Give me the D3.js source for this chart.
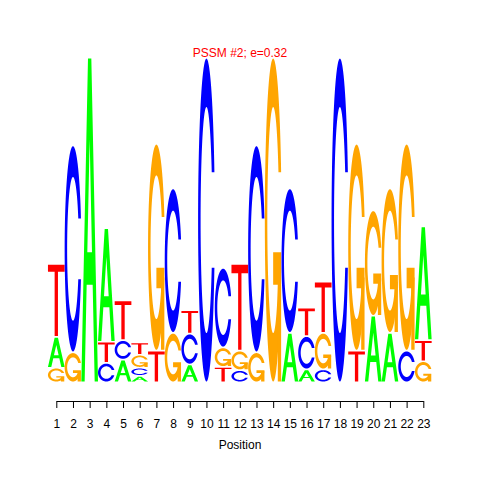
<!DOCTYPE html>
<html><head><meta charset="utf-8">
<script src="https://cdn.jsdelivr.net/npm/d3@7"></script>
<style>body{margin:0;background:#fff} svg{display:block}</style>
</head><body>
<script>
// ---- data ----
const title = "PSSM #2; e=0.32";
const xLabel = "Position";
const positions = [1,2,3,4,5,6,7,8,9,10,11,12,13,14,15,16,17,18,19,20,21,22,23];
// letters of each column, stacked bottom -> top
const stackLetters = ["GAT","GC","A","CTA","ACT","ACGT","TG","GC","ACT","C","TGC","CGT",
                      "GC","G","AC","ACT","CGT","C","TG","AG","AG","CG","GTA"];
// heights (bits) of those letters, same order
const stackHeights = [
  [0.08,0.18,0.44],
  [0.175,1.265],
  [1.99],
  [0.11,0.12,0.69],
  [0.13,0.11,0.235],
  [0.03,0.04,0.07,0.065],
  [0.185,1.265],
  [0.295,0.88],
  [0.10,0.18,0.135],
  [1.99],
  [0.085,0.11,0.48],
  [0.065,0.11,0.525],
  [0.175,1.265],
  [1.99],
  [0.295,0.88],
  [0.07,0.195,0.165],
  [0.07,0.215,0.305],
  [1.99],
  [0.185,1.265],
  [0.40,0.64],
  [0.295,0.88],
  [0.185,1.265],
  [0.12,0.12,0.69]
];
const letterColors = {A:"#00FF00", C:"#0000FF", G:"#FFA500", T:"#FF0000"};

// ---- layout ----
const W = 480, H = 480;
const FONT = "'Liberation Sans', Arial, Helvetica, sans-serif";
const x = d3.scaleLinear().domain([1, 23]).range([56.3, 423.3]);
const y = d3.scaleLinear().domain([0, 2]).range([381.5, 57]);
const gap = 0.01;

const svg = d3.select("body").append("svg").attr("width", W).attr("height", H);
svg.append("rect").attr("width", W).attr("height", H).attr("fill", "#fff");

// ---- glyph geometry (unit square, y up) ----
function seq(a, b, n) { const r = []; for (let i = 0; i < n; i++) r.push(a + (b - a) * i / (n - 1)); return r; }
function ring() {
  const a1 = seq(0.3 + Math.PI / 2, Math.PI, 100), a2 = seq(Math.PI, 1.5 * Math.PI, 100);
  const outerHalf = [...a1, ...a2].map(a => [0.5 + 0.5 * Math.sin(a), 0.5 + 0.5 * Math.cos(a)]);
  const ymax1 = 0.5 + 0.5 * Math.cos(a1[0]);
  const i1 = a1.map(a => [0.5 + 0.35 * Math.sin(a), 0.5 + 0.35 * Math.cos(a)]).filter(p => p[1] <= ymax1);
  i1[0] = [i1[0][0], ymax1];
  const i2 = a2.map(a => [0.5 + 0.35 * Math.sin(a), 0.5 + 0.35 * Math.cos(a)]);
  const innerHalf = [...i1, ...i2];
  const outer = [...outerHalf, ...outerHalf.slice().reverse().map(p => [p[0], 1 - p[1]])];
  const inner = [...innerHalf, ...innerHalf.slice().reverse().map(p => [p[0], 1 - p[1]])];
  return { poly: [...outer, ...inner.reverse()], r1: outerHalf[0][0] };
}
const R = ring();
const glyphs = {
  A: { polys: [[[0,0],[0.4,1],[0.6,1],[1,0],[0.8,0],[0.68,0.3],[0.32,0.3],[0.2,0]],
               [[0.36,0.4],[0.5,0.75],[0.64,0.4]]], evenodd: true },
  C: { polys: [R.poly] },
  G: { polys: [R.poly, [[R.r1,0.4],[0.5,0.4],[0.5,0.3],[R.r1-0.2,0.3],[R.r1-0.2,0],[R.r1,0]]] },
  T: { polys: [[[0,1],[1,1],[1,0.9],[0.6,0.9],[0.6,0],[0.4,0],[0.4,0.9],[0,0.9]]] }
};

// ---- letters ----
const gLetters = svg.append("g");
positions.forEach((pos, j) => {
  let ypos = 0;
  const letters = stackLetters[j].split("");
  letters.forEach((L, k) => {
    const h = stackHeights[j][k];
    const line = d3.line()
      .x(p => x(pos - 0.5 + p[0]))
      .y(p => y(ypos + p[1] * h))
      .curve(d3.curveLinearClosed);
    const gl = glyphs[L];
    if (gl.evenodd) {
      gLetters.append("path")
        .attr("d", gl.polys.map(p => line(p)).join(""))
        .attr("fill", letterColors[L]).attr("fill-rule", "evenodd");
    } else {
      gl.polys.forEach(p => {
        gLetters.append("path").attr("d", line(p)).attr("fill", letterColors[L]);
      });
    }
    ypos += h + gap;
  });
});

// ---- axis ----
const axis = d3.axisBottom(x).tickValues(positions).tickSize(7).tickPadding(11).tickSizeOuter(0);
const gAxis = svg.append("g").attr("transform", "translate(0,401)").call(axis);
gAxis.attr("font-size", 12).attr("font-family", FONT);
gAxis.selectAll("path, line").attr("stroke", "#000");
gAxis.selectAll("text").attr("fill", "#000");

// ---- texts ----
svg.append("text").attr("x", 240).attr("y", 449).attr("text-anchor", "middle")
  .attr("font-family", FONT).attr("font-size", 12).attr("fill", "#000").text(xLabel);
svg.append("text").attr("x", 240).attr("y", 57).attr("text-anchor", "middle")
  .attr("font-family", FONT).attr("font-size", 12).attr("fill", "#FF0000").text(title);
</script>
</body></html>
